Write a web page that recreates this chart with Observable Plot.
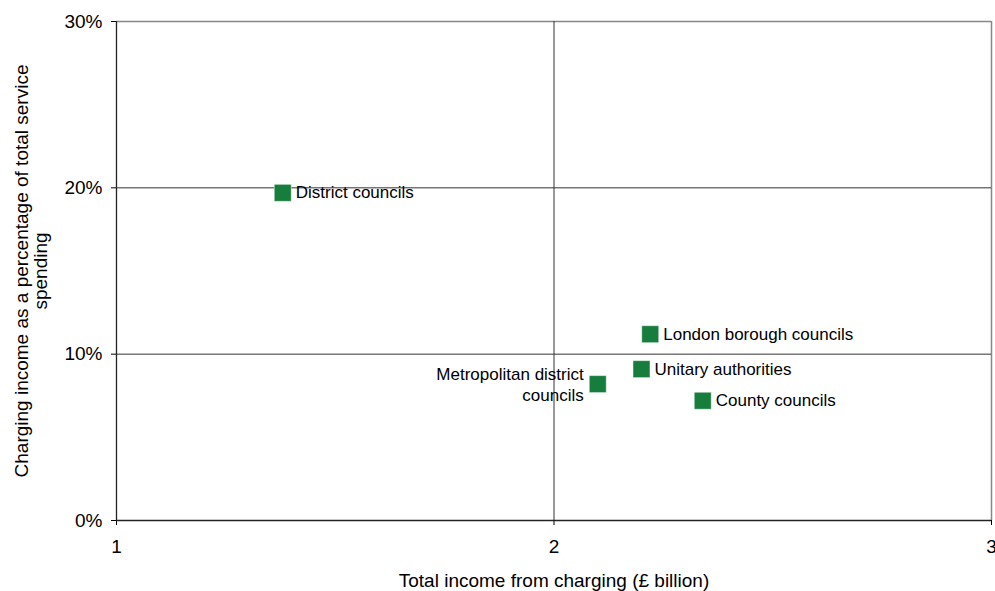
<!DOCTYPE html>
<html><head><meta charset="utf-8">
<script src="https://cdn.jsdelivr.net/npm/d3@7"></script>
<script src="https://cdn.jsdelivr.net/npm/@observablehq/plot@0.6"></script>
<style>
body{margin:0;background:#fff;}
#chart{width:995px;height:591px;}
</style>
</head><body><div id="chart"></div>
<script>
const names = ["District councils","London borough councils","Unitary authorities","Metropolitan district\ncouncils","County councils"];
const income = [1.38, 2.22, 2.20, 2.10, 2.34];
const pct = [19.7, 11.2, 9.1, 8.2, 7.2];
const side = ["right","right","right","left","right"];
const xTicks = [1,2,3];
const yTicks = [0,10,20,30];

const data = names.map((n,i)=>({name:n, x:income[i], y:pct[i], side:side[i]}));
const font = "Liberation Sans, Arial, sans-serif";

const chart = Plot.plot({
  width: 995, height: 591,
  marginLeft: 116, marginRight: 4, marginTop: 21, marginBottom: 71,
  style: {fontFamily: font, fontSize: "19px", color: "#000", background: "#fff"},
  x: {domain:[1,3], ticks: xTicks, tickFormat: d=>String(d), label: "Total income from charging (£ billion)", labelAnchor:"center", labelArrow:"none", tickSize: 5, tickPadding: 14, labelOffset: 66},
  y: {domain:[0,30], ticks: yTicks, tickFormat: d=>d+"%", label: "Charging income as a percentage of total service\nspending", labelAnchor:"center", labelArrow:"none", tickSize: 5, tickPadding: 9, labelOffset: 102},
  marks: [
    Plot.ruleY([30], {stroke:"#888", strokeWidth:1.5, strokeOpacity:1}),
    Plot.ruleX([3], {stroke:"#888", strokeWidth:1.5, strokeOpacity:1}),
    Plot.ruleY([10,20], {stroke:"#333", strokeWidth:1, strokeOpacity:1}),
    Plot.ruleX([2], {stroke:"#333", strokeWidth:1, strokeOpacity:1}),
    Plot.ruleY([0], {stroke:"#222", strokeWidth:1.3, strokeOpacity:1}),
    Plot.ruleX([1], {stroke:"#222", strokeWidth:1.3, strokeOpacity:1}),
    Plot.dot(data, {x:"x", y:"y", symbol:"square", r:9.6, fill:"#177d3c", stroke:"#fff", strokeWidth:0.5}),
    Plot.text(data.filter(d=>d.side==="right"), {x:"x", y:"y", text:"name", textAnchor:"start", dx:13, fontSize:17, fill:"#000"}),
    Plot.text(data.filter(d=>d.side==="left"), {x:"x", y:"y", text:"name", textAnchor:"end", dx:-14, fontSize:17, fill:"#000", lineHeight:1.18})
  ]
});
document.getElementById("chart").appendChild(chart);
</script>
</body></html>
